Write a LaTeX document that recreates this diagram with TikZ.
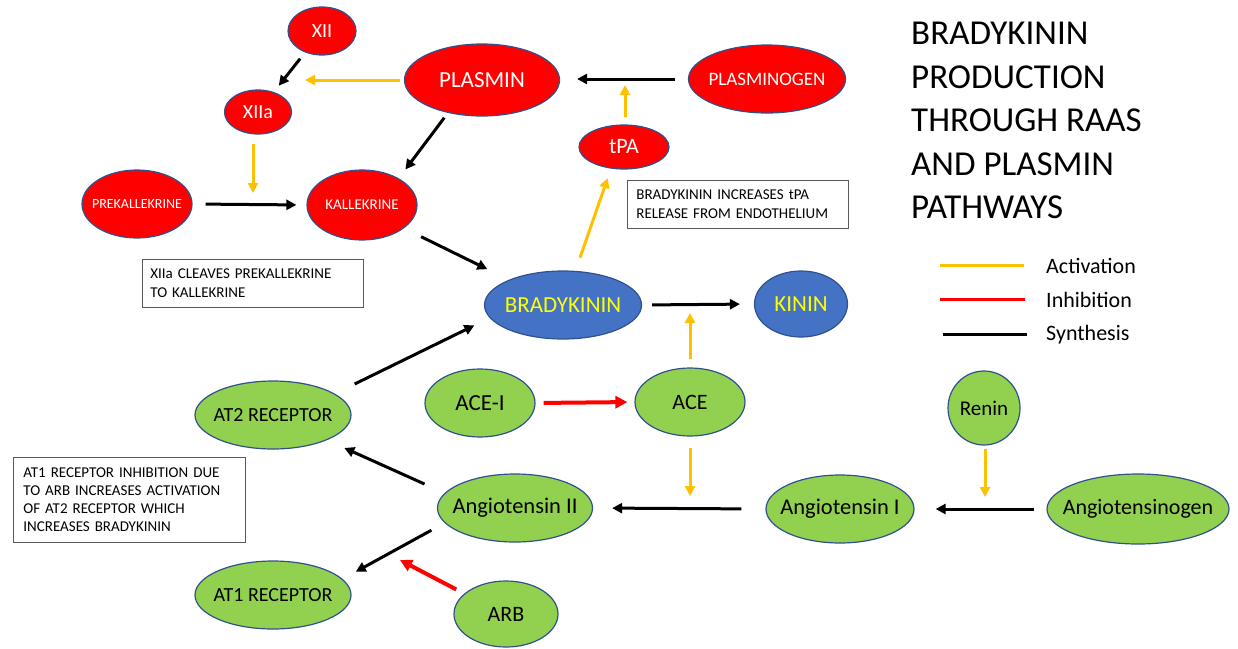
\documentclass[tikz,border=0pt]{standalone}
\usepackage{fontspec}
\setmainfont{Carlito}
\usetikzlibrary{arrows.meta,shapes.geometric}
\definecolor{redfill}{RGB}{255,0,0}
\definecolor{greenfill}{RGB}{146,208,80}
\definecolor{bluefill}{RGB}{68,114,196}
\definecolor{rimcolor}{RGB}{47,82,143}
\definecolor{actcolor}{RGB}{255,192,0}
\definecolor{inhcolor}{RGB}{255,0,0}
\definecolor{kinintext}{RGB}{255,255,0}
\newcommand{\fs}[1]{\fontsize{#1}{#1}\selectfont}
\newcommand{\cbox}[1]{\makebox[0pt]{#1}}

\begin{document}
\begin{tikzpicture}[x=1pt,y=-1pt,>={Triangle[length=10pt,width=10pt]},
  ell/.style={ellipse,draw=rimcolor,line width=1.2pt,inner sep=0pt},
  rednode/.style={ell,fill=redfill,text=white},
  greennode/.style={ell,fill=greenfill,text=black},
  bluenode/.style={ell,fill=bluefill,text=kinintext},
  syn/.style={->,line width=3pt,black},
  act/.style={->,line width=3pt,actcolor},
  inh/.style={->,line width=4pt,inhcolor,>={Triangle[length=12pt,width=12pt]}},
  notebox/.style={draw=black!65,line width=0.8pt,inner ysep=8pt,align=left,
    anchor=north west,font=\fontsize{15}{19.3}\selectfont},
  legline/.style={line width=3pt}]
\useasboundingbox (0,0) rectangle (1238,648);
% plasmin pathway
\node[rednode,minimum width=68pt,minimum height=48pt,font=\fs{20}] (xii) at (322,31) {\cbox{XII}};
\node[rednode,minimum width=67pt,minimum height=44pt,font=\fs{20}] (xiia) at (258,112) {\cbox{XIIa}};
\node[rednode,minimum width=155pt,minimum height=72pt,font=\fs{23}] (plasmin) at (482,80) {\cbox{PLASMIN}};
\node[rednode,minimum width=157pt,minimum height=68pt,font=\fs{19}] (plasminogen) at (767,79) {\cbox{PLASMINOGEN}};
\node[rednode,minimum width=90pt,minimum height=44pt,font=\fs{22}] (tpa) at (624,147) {\cbox{tPA}};
\node[rednode,minimum width=110pt,minimum height=68pt,font=\fs{14}] (prekal) at (137,204) {\cbox{PREKALLEKRINE}};
\node[rednode,minimum width=110pt,minimum height=70pt,font=\fs{15}] (kal) at (362,205) {\cbox{KALLEKRINE}};
\node[bluenode,minimum width=157pt,minimum height=68pt,font=\fs{23}] (brady) at (563,305) {\cbox{BRADYKININ}};
\node[bluenode,minimum width=93pt,minimum height=66pt,font=\fs{23}] (kinin) at (801,304) {\cbox{KININ}};
% raas pathway
\node[greennode,minimum width=156pt,minimum height=68pt,font=\fs{20}] (at2) at (273,415) {\cbox{AT2 RECEPTOR}};
\node[greennode,minimum width=110pt,minimum height=68pt,font=\fs{23}] (acei) at (480,403) {\cbox{ACE-I}};
\node[greennode,minimum width=110pt,minimum height=68pt,font=\fs{22}] (ace) at (690,402) {\cbox{ACE}};
\node[greennode,minimum width=72pt,minimum height=74pt,font=\fs{21}] (renin) at (984,408) {\cbox{Renin}};
\node[greennode,minimum width=155pt,minimum height=68pt,font=\fs{22.5}] (angii) at (515,508) {\cbox{Angiotensin II}};
\node[greennode,minimum width=148pt,minimum height=68pt,font=\fs{22.5}] (angi) at (840,509) {\cbox{Angiotensin I}};
\node[greennode,minimum width=182pt,minimum height=70pt,font=\fs{22}] (angiogen) at (1138,509) {\cbox{Angiotensinogen}};
\node[greennode,minimum width=156pt,minimum height=68pt,font=\fs{20}] (at1) at (273,595) {\cbox{AT1 RECEPTOR}};
\node[greennode,minimum width=104pt,minimum height=66pt,font=\fs{22}] (arb) at (506,614) {\cbox{ARB}};
% notes and title
\node[notebox,inner xsep=8pt,text width=205pt,minimum height=48pt] (note1) at (142,259) {XIIa CLEAVES PREKALLEKRINE\\TO KALLEKRINE};
\node[notebox,inner xsep=9pt,text width=203pt,minimum height=48pt] (note2) at (627,180) {BRADYKININ INCREASES tPA\\RELEASE FROM ENDOTHELIUM};
\node[notebox,inner xsep=10pt,text width=212pt,minimum height=85pt,font=\fontsize{15}{18}\selectfont] (note3) at (13,457) {AT1 RECEPTOR INHIBITION DUE\\TO ARB INCREASES ACTIVATION\\OF AT2 RECEPTOR WHICH\\INCREASES BRADYKININ};
\node[anchor=north west,inner sep=0pt,align=left,font=\fontsize{35}{43.5}\selectfont] (title) at (911,22) {BRADYKININ\\PRODUCTION\\THROUGH RAAS\\AND PLASMIN\\PATHWAYS};
% legend
\node[anchor=base west,inner sep=0pt,font=\fs{22}] (lact) at (1046,273) {Activation};
\node[anchor=base west,inner sep=0pt,font=\fs{22}] (linh) at (1046,307) {Inhibition};
\node[anchor=base west,inner sep=0pt,font=\fs{22}] (lsyn) at (1046,340) {Synthesis};
\draw[legline,actcolor] ([xshift=-22pt]lact.west) -- ++(-84,0);
\draw[legline,inhcolor] ([xshift=-21pt]linh.west) -- ++(-85,0);
\draw[legline,black] ([xshift=-19pt]lsyn.west) -- ++(-84,0);
% free ends that point at other arrows
\coordinate (xiiaend) at (253,193);
\coordinate (tpaend) at (625,85);
\coordinate (aceup) at (690,313);
\coordinate (acedown) at (690,496);
\coordinate (reninend) at (985,497);
\coordinate (arbend) at (400,560);
\draw[syn,shorten <=8pt,shorten >=8pt] (xii) -- (xiia);
\draw[act,shorten <=4pt,shorten >=13pt] (plasmin.west) -- (plasmin.west -| xiia.east);
\draw[act,shorten <=9pt] (xiia.south -| xiiaend) -- (xiiaend);
\draw[syn,shorten <=13pt,shorten >=10pt] (prekal.east) -- (kal.west);
\draw[syn,shorten <=6pt,shorten >=11pt] (plasmin.224) -- (kal.36);
\draw[syn,shorten <=13pt,shorten >=17pt] (plasminogen.west) -- (plasminogen.west -| plasmin.east);
\draw[act,shorten <=7pt] (tpa.north -| tpaend) -- (tpaend);
\draw[act,shorten <=14pt,shorten >=10pt] (brady.70) -- (tpa.239);
\draw[syn,shorten <=19pt,shorten >=24pt] (kal.331) -- (brady.155);
\draw[syn,shorten <=10pt,shorten >=14pt] (brady.east) -- (kinin.west);
\draw[act,shorten <=8pt] (ace.north) -- (aceup);
\draw[syn,shorten <=22pt,shorten >=17pt] (at2.19) -- (brady.190);
\draw[inh,shorten <=8pt,shorten >=7pt] (acei.east) -- (ace.west);
\draw[act,shorten <=11pt] (ace.south) -- (acedown);
\draw[act,shorten <=3pt] (renin.south -| reninend) -- (reninend);
\draw[syn,shorten <=12pt,shorten >=21pt] (angiogen.west) -- (angi.east);
\draw[syn,shorten <=24pt,shorten >=19pt] (angi.west) -- (angii.east);
\draw[syn,shorten <=22pt,shorten >=19pt] (angii.168) -- (at2.335);
\draw[syn,shorten <=15pt,shorten >=15pt] (angii.192) -- (at1.13);
\draw[inh,shorten <=9pt] (arb.154) -- (arbend);
\end{tikzpicture}
\end{document}
